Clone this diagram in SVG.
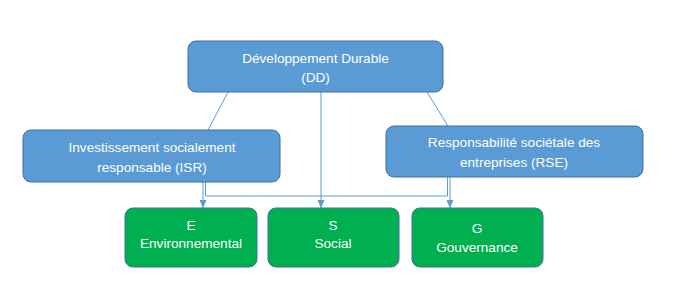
<svg xmlns="http://www.w3.org/2000/svg" width="678" height="304" viewBox="0 0 678 304">
<style>
.blue{fill:#5B9BD5;stroke:#41719C;stroke-width:1}
.green{fill:#00B050;stroke:#41719C;stroke-width:1}
.t{font-family:"Liberation Sans",Arial,sans-serif;font-size:13.6px;fill:#FFFFFF;text-anchor:middle}
.c{fill:none;stroke:#5B9BD5;stroke-width:1}
</style>
<defs>
<marker id="ah" markerWidth="8" markerHeight="7" refX="8" refY="3.5" orient="auto" markerUnits="userSpaceOnUse">
<path d="M0,0 L8,3.5 L0,7 Z" fill="#5B9BD5"/>
</marker>
</defs>
<rect width="678" height="304" fill="#FFFFFF"/>
<g id="connectors">
<line class="c" x1="228" y1="92" x2="208" y2="130"/>
<line class="c" x1="427" y1="92" x2="448" y2="126"/>
<line class="c" x1="321" y1="92" x2="321" y2="208" marker-end="url(#ah)"/>
<line class="c" x1="203" y1="182" x2="203" y2="208" marker-end="url(#ah)"/>
<polyline class="c" points="205.5,182 205.5,196 447.5,196 447.5,177"/>
<line class="c" x1="450" y1="177" x2="450" y2="208" marker-end="url(#ah)"/>
</g>
<g id="dd">
<rect class="blue" x="188" y="41" width="255" height="51" rx="8"/>
<text class="t" x="315.5" y="63">Développement Durable</text>
<text class="t" x="315.5" y="82">(DD)</text>
</g>
<g id="isr">
<rect class="blue" x="23" y="130" width="257" height="52" rx="8"/>
<text class="t" x="152" y="152">Investissement socialement</text>
<text class="t" x="152" y="172">responsable (ISR)</text>
</g>
<g id="rse">
<rect class="blue" x="386" y="126" width="257" height="51" rx="8"/>
<text class="t" x="514" y="147">Responsabilité sociétale des</text>
<text class="t" x="514" y="167">entreprises (RSE)</text>
</g>
<g id="e">
<rect class="green" x="125" y="208" width="132" height="59" rx="8"/>
<text class="t" x="191" y="230">E</text>
<text class="t" x="191" y="248">Environnemental</text>
</g>
<g id="s">
<rect class="green" x="268" y="208" width="131" height="59" rx="8"/>
<text class="t" x="333" y="230">S</text>
<text class="t" x="333" y="248">Social</text>
</g>
<g id="g">
<rect class="green" x="412" y="208" width="131" height="59" rx="8"/>
<text class="t" x="477" y="233">G</text>
<text class="t" x="477" y="252">Gouvernance</text>
</g>
</svg>
